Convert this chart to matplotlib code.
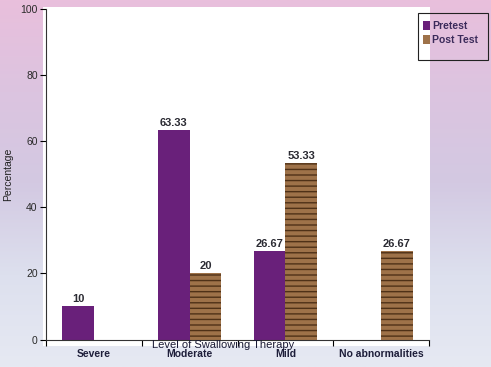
import numpy as np
import matplotlib
matplotlib.use('Agg')
import matplotlib.pyplot as plt
from matplotlib.patches import Rectangle, Patch
from matplotlib.colors import LinearSegmentedColormap

plt.rcParams['font.family'] = ['Liberation Sans', 'DejaVu Sans']
plt.rcParams['hatch.linewidth'] = 1.0

# data
categories = ['Severe', 'Moderate', 'Mild', 'No abnormalities']
pretest = [10, 63.33, 26.67, 0]
posttest = [0, 20, 53.33, 26.67]
pre_labels = ['10', '63.33', '26.67', '']
post_labels = ['', '20', '53.33', '26.67']
yticks = [0, 20, 40, 60, 80, 100]

W, H = 491, 367
fig = plt.figure(figsize=(W / 100, H / 100), dpi=100)

# background gradient
bg = fig.add_axes([0, 0, 1, 1], zorder=-10)
cmap = LinearSegmentedColormap.from_list('bg', ['#e9bfdc', '#dcc4e0', '#d3c9e2', '#dde0ee', '#e6e9f3'])
bg.imshow(np.linspace(0, 1, 256).reshape(-1, 1), aspect='auto', cmap=cmap, extent=[0, 1, 0, 1])
bg.axis('off')

# white plot region
fig.patches.append(Rectangle((43 / W, 1 - 346 / H), (430 - 43) / W, (346 - 7) / H,
                             transform=fig.transFigure, facecolor='white', edgecolor='none', zorder=-5))

ax = fig.add_axes([46 / W, 1 - 339.5 / H, (429 - 46) / W, 330.5 / H])
ax.set_facecolor('white')

x = np.arange(len(categories))
bw = 0.33
purple = '#69207a'
wood = '#9e7249'

ax.bar(x - bw / 2, pretest, bw, color=purple, linewidth=0)
ax.bar(x + bw / 2, posttest, bw, facecolor=wood, edgecolor='#4f3117', hatch='---', linewidth=0)

for i in range(len(categories)):
    if pre_labels[i]:
        ax.text(x[i] - bw / 2, pretest[i] + 0.6, pre_labels[i], ha='center', va='bottom',
                fontsize=8, fontweight='bold', color='#2b2b33')
    if post_labels[i]:
        ax.text(x[i] + bw / 2, posttest[i] + 0.6, post_labels[i], ha='center', va='bottom',
                fontsize=8, fontweight='bold', color='#2b2b33')

ax.set_xlim(-0.5, len(categories) - 0.5)
ax.set_ylim(0, 100)
ax.set_yticks(yticks)
ax.tick_params(axis='y', labelsize=7.5, labelcolor='#2a2a2a', length=4, width=0.8, pad=2)
ax.set_xticks(x)
ax.set_xticklabels(categories, fontsize=7.5, fontweight='bold', color='#1e1e3a')
ax.tick_params(axis='x', length=0, pad=7)
ax.set_xticks(np.arange(len(categories) + 1) - 0.5, minor=True)
ax.tick_params(axis='x', which='minor', length=4, width=0.8, direction='out')

for s in ['top', 'right']:
    ax.spines[s].set_visible(False)
for s in ['left', 'bottom']:
    ax.spines[s].set_color('#333333')
    ax.spines[s].set_linewidth(0.8)

ax.set_ylabel('Percentage', fontsize=7.5, color='#222222', labelpad=5)
fig.text(223 / W, 1 - 345 / H, 'Level of Swallowing Therapy', ha='center', va='center',
         fontsize=8, color='#1a1a35')

# legend box drawn taller than its entries
fig.patches.append(Rectangle((418 / W, 1 - 60 / H), 70 / W, 47 / H, transform=fig.transFigure,
                             facecolor='none', edgecolor='#222222', linewidth=0.8, zorder=5))
handles = [Patch(facecolor=purple), Patch(facecolor=wood)]
leg = fig.legend(handles, ['Pretest', 'Post Test'], loc='upper left',
                 bbox_to_anchor=(415 / W, 1 - 13 / H), fontsize=7.5, frameon=False,
                 handlelength=0.6, handleheight=0.9, handletextpad=0.25, borderpad=0.3,
                 labelspacing=0.35)
for t in leg.get_texts():
    t.set_color('#3b2a5a')
    t.set_fontweight('bold')

fig.savefig('out.png', dpi=100)
